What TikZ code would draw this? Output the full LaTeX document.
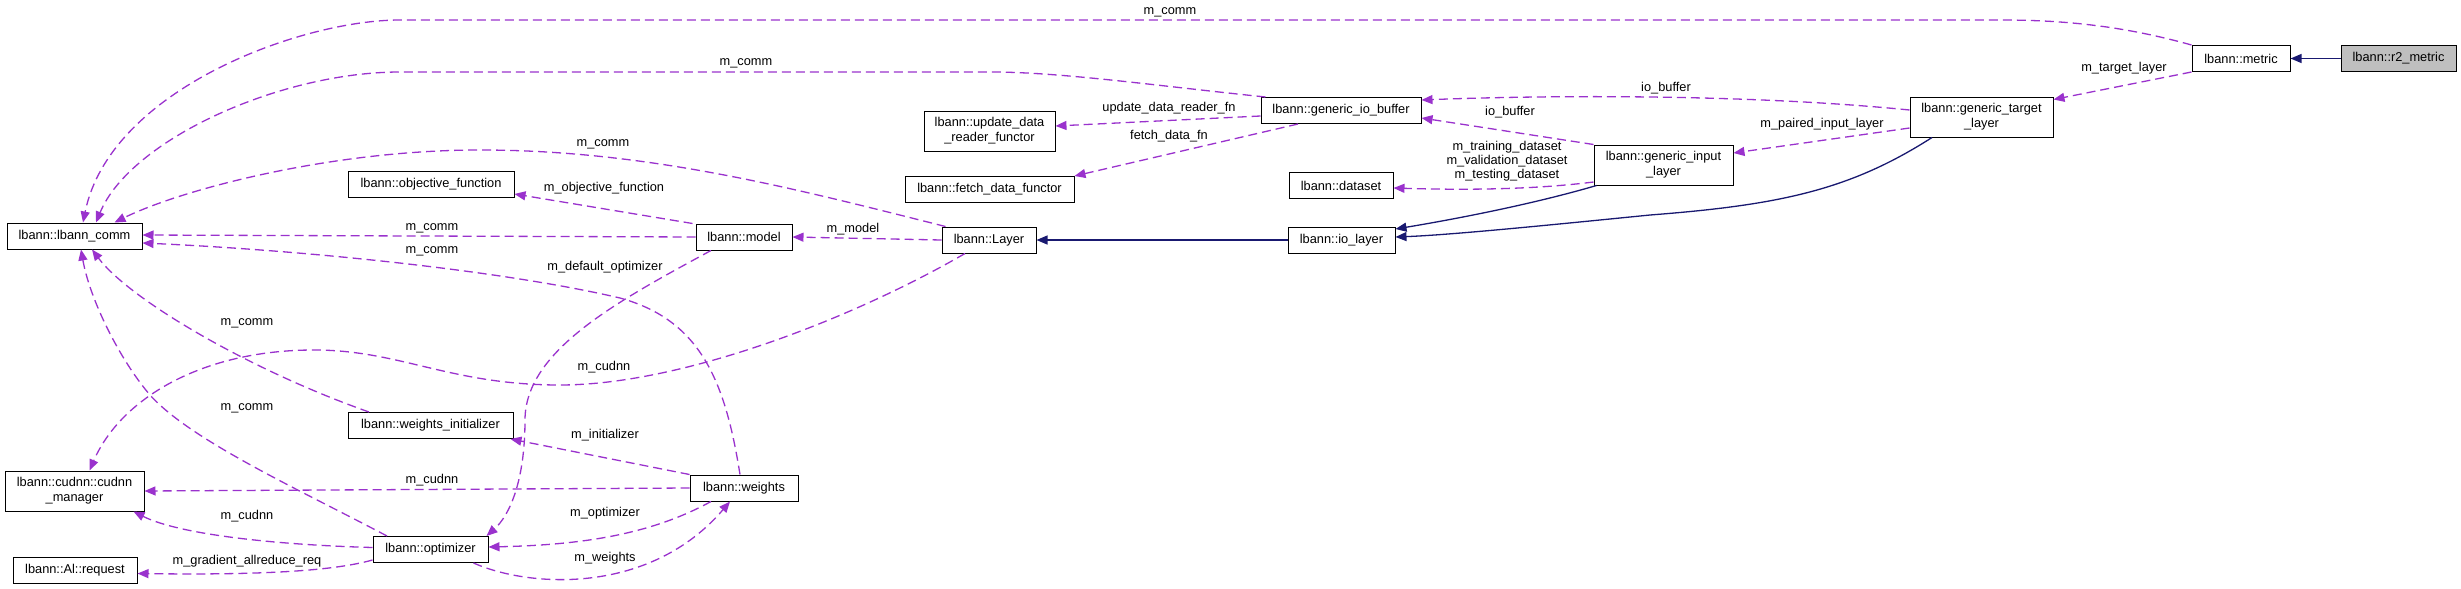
\documentclass[tikz,border=0pt]{standalone}
\usepackage{fontspec}
\setmainfont{Liberation Sans}
\usetikzlibrary{arrows.meta}
\definecolor{usecol}{HTML}{9A32CD}
\definecolor{inhcol}{HTML}{191970}
\definecolor{basecol}{HTML}{BFBFBF}

\begin{document}
\begin{tikzpicture}[x=1pt, y=-1pt,
    cls/.style={rectangle, draw, fill=white, line width=1pt, inner sep=0pt, minimum height=26, align=center, font=\fontsize{12.8}{15}\selectfont},
    uses/.style={draw=usecol, line width=1.3pt, dash pattern=on 9pt off 5pt, -{Triangle[length=11pt,width=9pt]}},
    inh/.style={draw=inhcol, line width=1.3pt, -{Triangle[length=11pt,width=9pt]}},
    lbl/.style={inner sep=0pt, align=center, font=\fontsize{12.8}{14}\selectfont},
]
\useasboundingbox (0,0) rectangle (2461,589);

% Classes
\node[cls, minimum width=135] (comm) at (74.5,236) {lbann::lbann\_comm};
\node[cls, minimum width=139, minimum height=40] (cudnn) at (74.5,491) {lbann::cudnn::cudnn\\\_manager};
\node[cls, minimum width=124] (req) at (75,570.5) {lbann::Al::request};
\node[cls, minimum width=166] (objfn) at (431,184) {lbann::objective\_function};
\node[cls, minimum width=165] (winit) at (430.5,425.5) {lbann::weights\_initializer};
\node[cls, minimum width=115] (opt) at (430.5,549.5) {lbann::optimizer};
\node[cls, minimum width=96] (model) at (744,237) {lbann::model};
\node[cls, minimum width=108] (wts) at (744,488) {lbann::weights};
\node[cls, minimum width=94] (layer) at (989,240) {lbann::Layer};
\node[cls, minimum width=131, minimum height=40] (upd) at (989.5,131) {lbann::update\_data\\\_reader\_functor};
\node[cls, minimum width=169] (fetch) at (989.5,189.5) {lbann::fetch\_data\_functor};
\node[cls, minimum width=160] (iobuf) at (1341,110.5) {lbann::generic\_io\_buffer};
\node[cls, minimum width=104] (dset) at (1341,185.5) {lbann::dataset};
\node[cls, minimum width=107] (iolay) at (1341.5,240) {lbann::io\_layer};
\node[cls, minimum width=139, minimum height=40] (gin) at (1663.5,165) {lbann::generic\_input\\\_layer};
\node[cls, minimum width=143, minimum height=40] (gtgt) at (1981.5,117) {lbann::generic\_target\\\_layer};
\node[cls, minimum width=98] (metric) at (2241,58.5) {lbann::metric};
\node[cls, minimum width=115, fill=basecol] (rtwo) at (2398.5,58.5) {lbann::r2\_metric};

% Inheritance
\draw[inh] (rtwo.west) -- (metric.east);
\draw[inh] (iolay.west) -- (layer.east);
\draw[inh] ([xshift=3]gin.south west) .. controls (1530,205) and (1450,220) .. ([yshift=11]iolay.east);
\draw[inh] ([xshift=-49.5]gtgt.south) .. controls (1850,190) and (1780,205) .. (1650,215) .. controls (1550,225) and (1450,235) .. ([yshift=3]iolay.east);

% Usage
\draw[uses] (metric.north west) .. controls (2120,25) and (2060,20) .. (2000,20) -- (400,20) .. controls (300,20) and (110,90) .. ([xshift=8.5]comm.north);
\draw[uses] ([xshift=5]iobuf.north west) .. controls (1150,85) and (1060,72) .. (990,72) -- (400,72) .. controls (280,72) and (130,140) .. ([xshift=21.5]comm.north);
\draw[uses] ([xshift=4]layer.north west) .. controls (800,190) and (650,150) .. (480,150) .. controls (330,150) and (180,190) .. ([xshift=40]comm.north);
\draw[uses] (model.west) -- ([yshift=1]comm.east);
\draw[uses] ([xshift=-4]wts.north) .. controls (725,380) and (700,320) .. (620,298) .. controls (500,270) and (300,250) .. ([yshift=-7]comm.east);
\draw[uses] ([xshift=-3]model.north west) -- ([yshift=-10]objfn.east);
\draw[uses] ([xshift=-33]model.south) .. controls (620,300) and (525,350) .. (525,420) .. controls (525,480) and (510,515) .. ([xshift=-2]opt.north east);
\draw[uses] (layer.west) -- (model.east);
\draw[uses] ([xshift=-24]layer.south) .. controls (850,320) and (680,385) .. (560,385) .. controls (450,385) and (400,350) .. (314,350) .. controls (200,350) and (120,400) .. ([xshift=15]cudnn.north);
\draw[uses] ([xshift=-61.5]winit.north) .. controls (250,370) and (130,300) .. ([xshift=17.5]comm.south);
\draw[uses] ([xshift=-43.5]opt.north) .. controls (300,490) and (190,440) .. (150,395) .. controls (120,360) and (90,300) .. ([xshift=6.5]comm.south);
\draw[uses] (wts.north west) -- ([xshift=-3]winit.south east);
\draw[uses] (wts.west) -- (cudnn.east);
\draw[uses] ([yshift=2]opt.west) .. controls (280,545) and (180,535) .. ([xshift=-11]cudnn.south east);
\draw[uses] ([yshift=3]opt.south west) .. controls (330,572) and (250,575) .. ([yshift=-3]req.east);
\draw[uses] ([xshift=-33]wts.south) .. controls (650,535) and (580,545) .. ([yshift=2.5]opt.east);
\draw[uses] ([xshift=43]opt.south) .. controls (530,588) and (650,595) .. ([xshift=-14]wts.south);
\draw[uses] ([yshift=-5.5]iobuf.west) -- ([yshift=5]upd.east);
\draw[uses] ([xshift=-43]iobuf.south) -- (fetch.north east);
\draw[uses] (gin.north west) -- ([yshift=-7.5]iobuf.east);
\draw[uses] ([yshift=7]gtgt.west) .. controls (1750,94) and (1550,95) .. ([yshift=10.5]iobuf.east);
\draw[uses] ([yshift=-17]gin.west) .. controls (1530,190) and (1460,190) .. ([yshift=-2.5]dset.east);
\draw[uses] ([yshift=-11]gtgt.west) -- ([yshift=12]gin.east);
\draw[uses] (metric.south west) -- ([yshift=-3]gtgt.north east);

% Labels
\node[lbl] (l1) at (1170,12) {m\_comm};
\node[lbl] (l2) at (746,63) {m\_comm};
\node[lbl] (l3) at (603,144) {m\_comm};
\node[lbl] (l4) at (432,228) {m\_comm};
\node[lbl] (l5) at (432,251) {m\_comm};
\node[lbl] (l6) at (604,188) {m\_objective\_function};
\node[lbl] (l7) at (605,267) {m\_default\_optimizer};
\node[lbl] (l8) at (853,229) {m\_model};
\node[lbl] (l9) at (604,367) {m\_cudnn};
\node[lbl] (l10) at (247,323) {m\_comm};
\node[lbl] (l11) at (247,408) {m\_comm};
\node[lbl] (l12) at (605,435) {m\_initializer};
\node[lbl] (l13) at (432,480) {m\_cudnn};
\node[lbl] (l14) at (247,516) {m\_cudnn};
\node[lbl] (l15) at (247,561) {m\_gradient\_allreduce\_req};
\node[lbl] (l16) at (605,513) {m\_optimizer};
\node[lbl] (l17) at (605,558) {m\_weights};
\node[lbl] (l18) at (1169,108) {update\_data\_reader\_fn};
\node[lbl] (l19) at (1169,136) {fetch\_data\_fn};
\node[lbl] (l20) at (1510,112) {io\_buffer};
\node[lbl] (l21) at (1666,88) {io\_buffer};
\node[lbl] (l22) at (1507,161) {m\_training\_dataset\\m\_validation\_dataset\\m\_testing\_dataset};
\node[lbl] (l23) at (1822,124) {m\_paired\_input\_layer};
\node[lbl] (l24) at (2124,68) {m\_target\_layer};

\end{tikzpicture}
\end{document}
